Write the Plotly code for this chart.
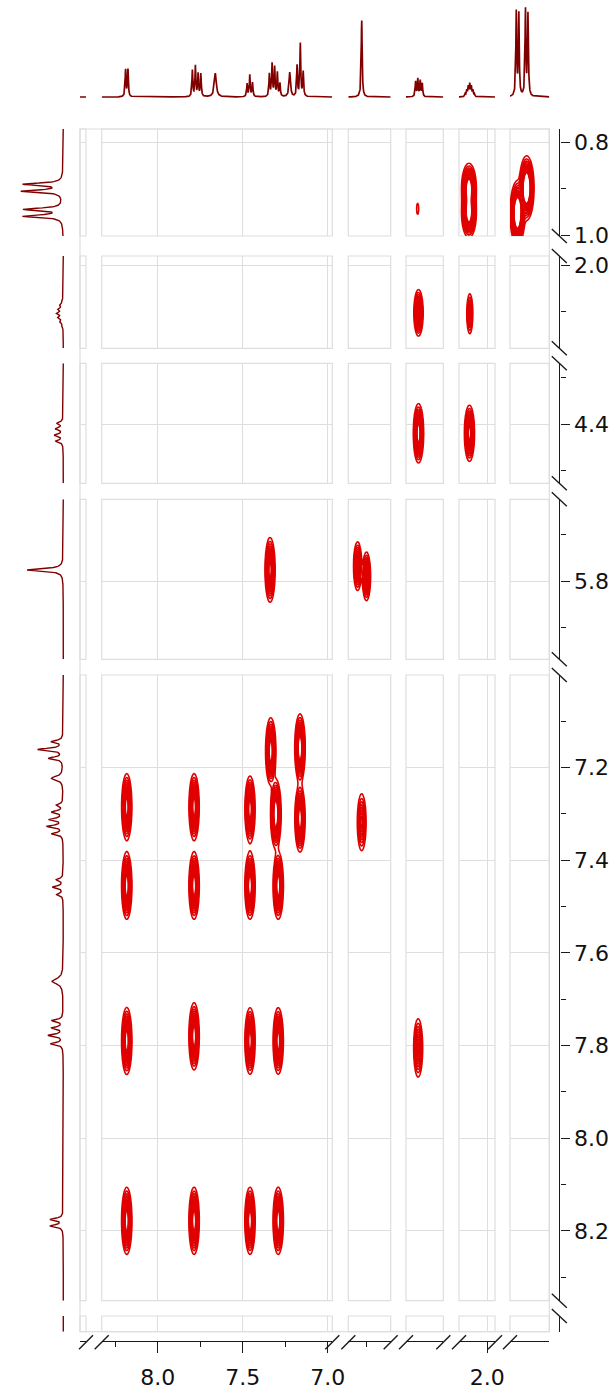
import numpy as np
import plotly.graph_objects as go

W, H = 616, 1392

# ---------------------------------------------------------------- 1H lines
# chemical shift (ppm), relative height, half width at half height (ppm)
line_ppm = [8.189, 8.175,
            7.796, 7.778, 7.762, 7.746,
            7.661,
            7.474, 7.458, 7.442,
            7.343, 7.327, 7.312, 7.296, 7.281,
            7.223,
            7.180, 7.161, 7.144,
            5.776,
            4.437, 4.424, 4.410, 4.398,
            2.130, 2.121, 2.112, 2.103, 2.094, 2.085, 2.076,
            0.959, 0.944, 0.905, 0.890]
line_height = [0.31, 0.31,
               0.30, 0.35, 0.26, 0.26,
               0.27,
               0.15, 0.25, 0.16,
               0.26, 0.37, 0.33, 0.27, 0.15,
               0.28,
               0.35, 0.60, 0.28,
               0.88,
               0.17, 0.20, 0.18, 0.15,
               0.03, 0.07, 0.11, 0.14, 0.11, 0.07, 0.03,
               0.96, 0.93, 0.98, 0.94]
line_hwhm = [0.003, 0.003,
             0.003, 0.003, 0.003, 0.003,
             0.007,
             0.003, 0.003, 0.003,
             0.003, 0.003, 0.003, 0.003, 0.003,
             0.005,
             0.003, 0.003, 0.003,
             0.0032,
             0.003, 0.003, 0.003, 0.003,
             0.003, 0.003, 0.003, 0.003, 0.003, 0.003, 0.003,
             0.003, 0.003, 0.003, 0.003]

# ---------------------------------------------------------------- COSY peaks
# F2 shift, F1 shift (ppm), relative intensity, widths along F2 / F1 (ppm)
cross_f2 = [8.182, 7.786, 7.457, 7.291,
            8.182, 7.786, 7.457, 7.291,
            8.182, 7.786, 7.457, 7.291,
            8.182, 7.786, 7.457, 7.305, 7.163,
            7.335, 7.163,
            5.776, 4.422,
            7.339, 5.800, 5.748,
            4.420, 2.105,
            4.420, 2.103,
            4.425, 2.108, 2.108, 0.898, 0.952]
cross_f1 = [8.178, 8.178, 8.178, 8.178,
            7.790, 7.780, 7.790, 7.790,
            7.455, 7.455, 7.455, 7.455,
            7.285, 7.285, 7.290, 7.300, 7.310,
            7.165, 7.158,
            7.318, 7.805,
            5.776, 5.768, 5.790,
            4.420, 4.420,
            2.102, 2.104,
            0.943, 0.898, 0.952, 0.898, 0.952]
cross_amp = [1.0, 1.0, 1.0, 1.0,
             1.0, 1.0, 0.95, 0.95,
             1.0, 1.0, 1.0, 1.0,
             0.95, 0.95, 0.95, 1.2, 1.0,
             1.0, 1.1,
             0.45, 0.5,
             0.9, 0.65, 0.65,
             1.0, 0.9,
             0.8, 0.4,
             0.072, 1.1, 1.1, 1.6, 1.6]
cross_sig2 = [0.0128] * 21 + [0.0128, 0.011, 0.011,
                              0.0128, 0.0128,
                              0.0120, 0.009,
                              0.010, 0.018, 0.018, 0.017, 0.017]
cross_sig1 = [0.0305] * 21 + [0.0300, 0.024, 0.024,
                              0.0270, 0.0260,
                              0.022, 0.022,
                              0.020, 0.022, 0.022, 0.027, 0.027]

# ---------------------------------------------------------------- windows
# displayed F2 windows (columns) and F1 windows (rows), ppm
col_hi = [8.470, 8.3294, 5.8548, 4.4935, 2.1665, 0.9960]
col_lo = [8.435, 6.9729, 5.6054, 4.2741, 1.9547, 0.7648]
row_lo = [0.7709, 1.9795, 4.2690, 5.6237, 7.0004, 8.420]
row_hi = [1.0017, 2.1786, 4.5279, 5.9689, 8.3504, 8.454]

# panel placement on the page (pixels)
col_px = [(80, 86), (101.7, 332.3), (348.3, 390.7), (406, 443.3), (459, 495), (510, 549.3)]
row_px = [(129, 236), (256, 348.3), (363.3, 483.3), (499.3, 659.3), (675, 1300.7), (1316, 1331.7)]
top_px = (6.4, 99.5)       # projection above
left_px = (15, 66)         # projection at the side
xaxis_py = 1340.7          # F2 scale line
yaxis_px = 559.3           # F1 scale line

GRID = "#dedede"
AXC = "#1a1a1a"
SPEC = "rgb(128,0,0)"
CONT = "rgb(224,0,0)"
FONT = dict(family="DejaVu Sans", size=22, color="#111111")


def fx(px):
    return px / W


def fy(py):
    return 1 - py / H


def ref(letter, n):
    return letter if n == 1 else f"{letter}{n}"


def key(letter, n):
    return f"{letter}axis" if n == 1 else f"{letter}axis{n}"


def spectrum(ppm):
    p = np.asarray(ppm)[:, None]
    c = np.array(line_ppm)[None, :]
    h = np.array(line_height)[None, :]
    w = np.array(line_hwhm)[None, :]
    return (h / (1 + ((p - c) / w) ** 2)).sum(axis=1)


def cosy(f2, f1):
    X, Y = np.meshgrid(f2, f1)
    Z = np.zeros_like(X)
    for cx, cy, a, sx, sy in zip(cross_f2, cross_f1, cross_amp, cross_sig2, cross_sig1):
        Z += a * np.exp(-0.5 * (((X - cx) / sx) ** 2 + ((Y - cy) / sy) ** 2))
    return Z


NC, NR = len(col_hi), len(row_hi)
# axis numbering
X2D = [1 + c for c in range(NC)]            # 1..6
Y2D = [1 + r for r in range(NR)]            # 1..6
XTOP = [7 + c for c in range(NC)]           # 7..12
YTOP = 7
XLEFT = 13
YLEFT = [8 + r for r in range(NR)]          # 8..13
XBOT = [14 + c for c in range(NC)]          # 14..19
YSTRIP = 14
YRIGHT = [15 + r for r in range(NR)]        # 15..20
XSTRIP = 20

fig = go.Figure()
levels = dict(start=0.06, end=0.76, size=0.05, coloring="none")

# 2D panels
for c in range(NC):
    for r in range(NR):
        wpx = col_px[c][1] - col_px[c][0]
        hpx = row_px[r][1] - row_px[r][0]
        pad2 = 0.03 * (col_hi[c] - col_lo[c])
        pad1 = 0.03 * (row_hi[r] - row_lo[r])
        f2 = np.linspace(col_lo[c] - pad2, col_hi[c] + pad2, int(wpx / 0.7) + 3)
        f1 = np.linspace(row_lo[r] - pad1, row_hi[r] + pad1, int(hpx / 1.8) + 3)
        Z = cosy(f2, f1)
        if Z.max() > levels["start"]:
            fig.add_trace(go.Contour(
                x=f2, y=f1, z=Z.astype(np.float32),
                xaxis=ref("x", X2D[c]), yaxis=ref("y", Y2D[r]),
                autocontour=False, contours=levels, showscale=False,
                line=dict(color=CONT, width=1.6, smoothing=0.85),
                hoverinfo="skip"))
        else:
            fig.add_trace(go.Scatter(x=[], y=[], xaxis=ref("x", X2D[c]),
                                     yaxis=ref("y", Y2D[r]), hoverinfo="skip"))

# projection on top
for c in range(NC):
    ppm = np.linspace(col_lo[c], col_hi[c], int((col_hi[c] - col_lo[c]) / 0.0008) + 2)
    fig.add_trace(go.Scatter(x=ppm, y=spectrum(ppm), mode="lines",
                             line=dict(color=SPEC, width=1.7),
                             xaxis=ref("x", XTOP[c]), yaxis=ref("y", YTOP),
                             hoverinfo="skip"))

# projection at the side
for r in range(NR):
    ppm = np.linspace(row_lo[r], row_hi[r], int((row_hi[r] - row_lo[r]) / 0.0008) + 2)
    fig.add_trace(go.Scatter(x=spectrum(ppm), y=ppm, mode="lines",
                             line=dict(color=SPEC, width=1.4),
                             xaxis=ref("x", XLEFT), yaxis=ref("y", YLEFT[r]),
                             hoverinfo="skip"))

# subplots carrying the scales
for c in range(NC):
    fig.add_trace(go.Scatter(x=[], y=[], xaxis=ref("x", XBOT[c]), yaxis=ref("y", YSTRIP)))
for r in range(NR):
    fig.add_trace(go.Scatter(x=[], y=[], xaxis=ref("x", XSTRIP), yaxis=ref("y", YRIGHT[r])))

lay = {}
hidden = dict(visible=False, showgrid=False, zeroline=False, automargin=False)
for c in range(NC):
    dom = [fx(col_px[c][0]), fx(col_px[c][1])]
    rng = [col_hi[c], col_lo[c]]
    lay[key("x", X2D[c])] = dict(domain=dom, range=rng, anchor=ref("y", Y2D[-1]),
                                 showticklabels=False, ticks="", showline=False,
                                 zeroline=False, showgrid=True, gridcolor=GRID,
                                 gridwidth=1, tick0=0, dtick=0.5, automargin=False)
    lay[key("x", XTOP[c])] = dict(domain=dom, range=rng, anchor=ref("y", YTOP), **hidden)
    lay[key("x", XBOT[c])] = dict(
        domain=dom, range=rng, anchor=ref("y", YSTRIP), side="bottom",
        showline=True, linecolor=AXC, linewidth=1.4,
        ticks="outside", ticklen=11, tickwidth=1.4, tickcolor=AXC,
        tick0=0, dtick=0.5, tickformat=".1f", tickfont=FONT,
        ticklabelstandoff=6, automargin=False,
        minor=dict(tick0=0, dtick=0.25, ticks="outside", ticklen=5,
                   tickwidth=1.4, tickcolor=AXC, showgrid=False),
        showgrid=False, zeroline=False)
for r in range(NR):
    dom = [fy(row_px[r][1]), fy(row_px[r][0])]
    rng = [row_hi[r], row_lo[r]]
    lay[key("y", Y2D[r])] = dict(domain=dom, range=rng, anchor=ref("x", X2D[-1]),
                                 showticklabels=False, ticks="", showline=False,
                                 zeroline=False, showgrid=True, gridcolor=GRID,
                                 gridwidth=1, tick0=0, dtick=0.2, automargin=False)
    lay[key("y", YLEFT[r])] = dict(domain=dom, range=rng, anchor=ref("x", XLEFT), **hidden)
    lay[key("y", YRIGHT[r])] = dict(
        domain=dom, range=rng, anchor=ref("x", XSTRIP), side="right",
        showline=True, linecolor=AXC, linewidth=1.4,
        ticks="outside", ticklen=9, tickwidth=1.4, tickcolor=AXC,
        tick0=0, dtick=0.2, tickformat=".1f", tickfont=FONT, automargin=False,
        minor=dict(tick0=0, dtick=0.1, ticks="outside", ticklen=5,
                   tickwidth=1.4, tickcolor=AXC, showgrid=False),
        showgrid=False, zeroline=False)

lay[key("y", YTOP)] = dict(domain=[fy(top_px[1]), fy(top_px[0])], range=[-0.028, 1.03],
                           anchor=ref("x", XTOP[0]), **hidden)
lay[key("x", XLEFT)] = dict(domain=[fx(left_px[0]), fx(left_px[1])], range=[1.161, -0.065],
                            anchor=ref("y", YLEFT[0]), **hidden)
lay[key("y", YSTRIP)] = dict(domain=[fy(xaxis_py), fy(xaxis_py - 8)], range=[0, 1],
                             anchor=ref("x", XBOT[0]), **hidden)
lay[key("x", XSTRIP)] = dict(domain=[fx(yaxis_px - 8), fx(yaxis_px)], range=[0, 1],
                             anchor=ref("y", YRIGHT[0]), **hidden)

# panel frames
shapes = []
for c in range(NC):
    for r in range(NR):
        shapes.append(dict(type="rect", xref=f"{ref('x', X2D[c])} domain",
                           yref=f"{ref('y', Y2D[r])} domain", x0=0, x1=1, y0=0, y1=1,
                           line=dict(color=GRID, width=1.2), layer="below"))
shapes.append(dict(type="rect", xref="paper", yref="paper",
                   x0=fx(col_px[0][0]), x1=fx(col_px[-1][1]),
                   y0=fy(row_px[-1][1]), y1=fy(row_px[0][0]),
                   line=dict(color=GRID, width=1.2), layer="below"))

# scale break marks
for c in range(NC):
    for e, is_inner in ((col_px[c][0], c > 0), (col_px[c][1], c < NC - 1)):
        if is_inner:
            shapes.append(dict(type="line", xref="paper", yref="paper",
                               x0=fx(e - 7), y0=fy(xaxis_py + 8.5),
                               x1=fx(e + 7), y1=fy(xaxis_py - 5.5),
                               line=dict(color=AXC, width=1.4)))
for r in range(NR):
    for e, is_inner in ((row_px[r][0], r > 0), (row_px[r][1], r < NR - 1)):
        if is_inner:
            shapes.append(dict(type="line", xref="paper", yref="paper",
                               x0=fx(yaxis_px - 7.5), y0=fy(e - 7),
                               x1=fx(yaxis_px + 7.5), y1=fy(e + 7),
                               line=dict(color=AXC, width=1.4)))

fig.update_layout(template="none", width=W, height=H,
                  margin=dict(l=0, r=0, t=0, b=0, autoexpand=False),
                  paper_bgcolor="white", plot_bgcolor="rgba(0,0,0,0)",
                  showlegend=False, font=dict(family="DejaVu Sans"),
                  shapes=shapes, **lay)

fig.write_html("out.html")
